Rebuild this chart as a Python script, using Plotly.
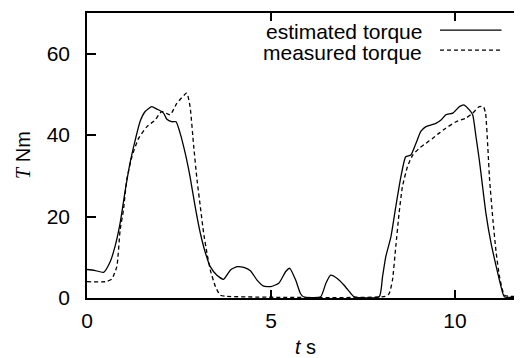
import plotly.graph_objects as go

# estimated torque (solid)
t_est = [0, 0.2, 0.45, 0.63, 0.76, 0.9, 1.04, 1.17, 1.31, 1.44, 1.58, 1.76, 1.9, 1.99, 2.08, 2.17, 2.3, 2.42,
         2.53, 2.67, 2.8, 2.94, 3.08, 3.22, 3.35, 3.53, 3.71, 3.9, 4.08, 4.26, 4.44, 4.62, 4.8, 4.99,
         5.21, 5.4, 5.51, 5.67, 5.8, 5.88, 6.35, 6.49, 6.62, 6.8, 6.98, 7.17, 7.26, 7.94, 8.03, 8.12,
         8.26, 8.39, 8.53, 8.66, 8.8, 8.94, 9.07, 9.21, 9.35, 9.48, 9.62, 9.75, 9.94, 10.12, 10.25,
         10.39, 10.48, 10.57, 10.66, 10.75, 10.84, 10.98, 11.12, 11.25, 11.34, 11.71, 11.85]
T_est = [7.0, 6.8, 6.3, 8.9, 12.6, 18.4, 26.5, 33.2, 38.8, 43.3, 45.8, 47.0, 46.4, 46.0, 45.4, 43.9, 43.3, 43.3,
         40.5, 35.5, 29.8, 22.4, 15.9, 11.0, 7.7, 5.6, 4.6, 6.9, 7.7, 7.5, 6.7, 4.4, 2.9, 2.8,
         3.6, 6.5, 7.3, 4.4, 1.1, 0.3, 0.3, 3.6, 5.6, 4.8, 3.2, 1.1, 0.3, 0.3, 5.2, 10.2,
         15.1, 22.4, 29.8, 34.7, 35.1, 38.0, 40.9, 42.1, 42.5, 42.9, 43.7, 45.0, 45.4, 47.0, 47.4,
         46.2, 45.0, 39.6, 33.9, 27.3, 20.8, 13.4, 7.7, 2.8, 0.3, 0.3, 2.0]

# measured torque (dashed)
t_meas = [0, 0.5, 0.67, 0.81, 0.9, 0.99, 1.08, 1.22, 1.4, 1.63, 1.85, 2.03, 2.26, 2.44, 2.71, 2.8, 2.9, 2.99,
          3.08, 3.17, 3.26, 3.35, 3.49, 3.62, 3.8, 8.1, 8.21, 8.3, 8.39, 8.48, 8.57, 8.71, 8.85, 9.03,
          9.21, 9.39, 9.57, 9.75, 10.03, 10.3, 10.48, 10.66, 10.77, 10.83, 10.89, 10.94, 11.03, 11.12,
          11.21, 11.34, 11.5, 11.85]
T_meas = [4.0, 4.0, 4.6, 7.7, 16.7, 21.6, 29.0, 34.7, 39.2, 42.1, 43.7, 45.8, 45.0, 47.8, 50.3, 47.0, 37.2, 29.0,
          22.4, 15.9, 11.0, 6.9, 2.8, 0.7, 0.4, 0.4, 1.1, 4.4, 12.6, 20.8, 27.3, 32.3, 35.1, 36.8,
          38.0, 39.2, 40.5, 41.7, 43.3, 44.2, 45.4, 47.0, 47.0, 45.4, 37.2, 29.0, 19.2, 11.0,
          5.2, 0.7, 0.4, 0.4]

x_ticks = [0, 5, 10]
y_ticks = [0, 20, 40, 60]
series_names = ["estimated torque", "measured torque"]

FONT = "Liberation Sans, Arial, sans-serif"

fig = go.Figure()
fig.add_trace(go.Scatter(x=t_est, y=T_est, mode="lines", name=series_names[0],
                         line=dict(color="black", width=1.3, shape="spline", smoothing=0.5)))
fig.add_trace(go.Scatter(x=t_meas, y=T_meas, mode="lines", name=series_names[1], yaxis="y2",
                         line=dict(color="black", width=1.3, dash="4px,3px", shape="spline", smoothing=0.5)))

# page body has an 8px default margin, so the figure is sized/offset accordingly
fig.update_layout(
    width=514, height=350,
    margin=dict(l=79, r=0, t=5, b=60),
    paper_bgcolor="white", plot_bgcolor="white",
    showlegend=False,
    font=dict(family=FONT, size=21, color="black"),
    xaxis=dict(range=[0, 11.82], tickvals=x_ticks, ticks="inside", ticklen=8, tickwidth=1.5,
               tickcolor="black", showline=True, linewidth=1.6, linecolor="black", mirror="ticks",
               showgrid=False, zeroline=False, ticklabelstandoff=3),
    yaxis=dict(range=[0, 70], tickvals=y_ticks, ticks="inside", ticklen=9, tickwidth=1.5,
               tickcolor="black", showline=True, linewidth=1.6, linecolor="black",
               showgrid=False, zeroline=False, ticklabelstandoff=11),
    yaxis2=dict(range=[0, 70], tickvals=y_ticks, ticks="inside", ticklen=4, tickwidth=1.5,
                tickcolor="black", overlaying="y", side="right", showline=False,
                showticklabels=False, showgrid=False, zeroline=False),
)

# axis titles
fig.add_annotation(xref="paper", yref="paper", x=0.503, y=-0.172, xanchor="center", yanchor="middle",
                   text="<i>t</i> s", showarrow=False, font=dict(size=20))
fig.add_annotation(xref="paper", yref="paper", x=-0.147, y=0.502, xanchor="center", yanchor="middle",
                   textangle=-90, showarrow=False, font=dict(size=20),
                   text="<span style='font-family:Liberation Serif'><i>T</i></span> Nm")

# legend (text left of line sample, as in the original)
leg_y_text = [0.934, 0.862]
leg_y_line = [0.940, 0.870]
dashes = ["solid", "4px,3px"]
for name, yt, yl, d in zip(series_names, leg_y_text, leg_y_line, dashes):
    fig.add_annotation(xref="paper", yref="paper", x=0.775, y=yt, xanchor="right", yanchor="middle",
                       text=name, showarrow=False, font=dict(size=21))
    fig.add_shape(type="line", xref="paper", yref="paper", x0=0.8115, x1=0.953, y0=yl, y1=yl,
                  line=dict(color="black", width=1.3, dash=d))

fig.write_html("out.html")
